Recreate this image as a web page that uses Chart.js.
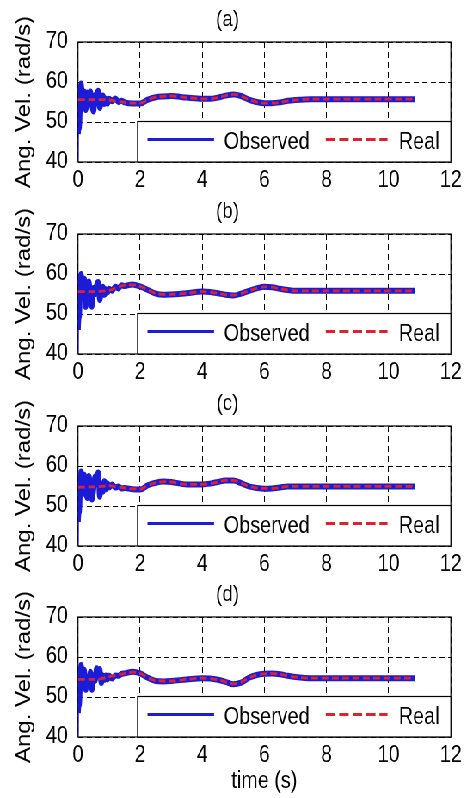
<!DOCTYPE html>
<html>
<head>
<meta charset="utf-8">
<script src="https://cdn.jsdelivr.net/npm/chart.js@4.4.1/dist/chart.umd.min.js"></script>
<style>
  html, body { margin: 0; padding: 0; background: #fff; overflow: hidden; }
  #wrap { width: 542px; transform: scaleX(0.86); transform-origin: 0 0; }
  canvas { display: block; }
</style>
</head>
<body>
<div id="wrap">
  <canvas id="pa" width="542" height="192"></canvas>
  <canvas id="pb" width="542" height="192"></canvas>
  <canvas id="pc" width="542" height="191"></canvas>
  <canvas id="pd" width="542" height="223"></canvas>
</div>
<script>
// Time bases (s)
const tReal = [0, 0.5, 0.75, 1, 1.25, 1.5, 1.75, 2, 2.25, 2.5, 2.75, 3, 3.5, 4, 4.25, 4.5, 4.75,
  5, 5.25, 5.5, 5.75, 6, 6.25, 6.5, 6.75, 7, 7.5, 8, 9, 10, 10.85];
const tObs = [0, 0.005, 0.04, 0.1, 0.15, 0.2, 0.25, 0.3, 0.35, 0.4, 0.45, 0.5, 0.55, 0.6, 0.65,
  0.7, 0.75, 0.8, 0.85, 0.9, 0.95, 1.0, 1.1, 1.2, 1.3, 1.4, 1.5, 1.75, 2, 2.25, 2.5, 2.75, 3,
  3.5, 4, 4.25, 4.5, 4.75, 5, 5.25, 5.5, 5.75, 6, 6.25, 6.5, 6.75, 7, 7.5, 8, 9, 10, 10.85];

// Real angular velocity (rad/s) per case
const realA = [55.6, 55.6, 55.6, 55.5, 55.2, 54.9, 54.7, 54.7, 55.6, 56.2, 56.4, 56.5, 56.1, 55.8,
  55.8, 56.1, 56.6, 56.9, 56.5, 55.6, 55.0, 54.7, 54.7, 54.9, 55.3, 55.5, 55.7, 55.7, 55.7, 55.7, 55.7];
const realB = [55.6, 55.6, 55.7, 55.9, 56.6, 57.2, 57.3, 56.9, 56.0, 55.2, 54.9, 54.9, 55.2, 55.6,
  55.5, 55.2, 54.8, 54.7, 55.1, 55.8, 56.4, 56.8, 56.7, 56.3, 56.0, 55.8, 55.8, 55.8, 55.8, 55.8, 55.8];
const realC = [54.7, 54.8, 54.9, 55.1, 54.8, 54.5, 54.3, 54.25, 55.2, 55.8, 56.1, 56.0, 55.4, 55.4,
  55.6, 56.0, 56.4, 56.4, 55.7, 54.9, 54.5, 54.4, 54.4, 54.6, 54.9, 54.9, 54.9, 54.9, 54.9, 54.9, 54.9];
const realD = [54.4, 54.4, 54.6, 55.1, 55.5, 55.9, 56.2, 55.9, 54.8, 54.1, 54.0, 54.0, 54.4, 54.7,
  54.6, 54.3, 53.8, 53.3, 53.7, 54.8, 55.5, 55.8, 55.9, 55.7, 55.3, 55.0, 54.7, 54.7, 54.7, 54.7, 54.7];

// Observed angular velocity (rad/s) per case
const obsA = [40, 47, 48.5, 59.6, 54.5, 57.6, 53, 57.4, 55, 57.6, 54, 52.6, 56.5, 57, 57.8, 53.5,
  55.5, 56.6, 54.5, 55.8, 54.6, 55.8, 55.2, 55.9, 55.0, 55.3, 54.9, 54.6, 54.6, 55.6, 56.2, 56.4,
  56.5, 56.1, 55.8, 55.8, 56.1, 56.6, 56.9, 56.5, 55.6, 55.0, 54.7, 54.7, 54.9, 55.3, 55.5, 55.7,
  55.7, 55.7, 55.7, 55.7];
const obsB = [40, 46, 49.5, 60, 55, 58.8, 51.8, 56, 58.1, 54, 51.8, 56.5, 55, 57.2, 58, 53.5,
  55.8, 56.8, 54.8, 56.2, 55.4, 56.3, 55.8, 56.8, 56.4, 57.2, 57.0, 57.4, 56.9, 56.0, 55.1, 54.8,
  54.9, 55.2, 55.6, 55.5, 55.2, 54.8, 54.6, 55.1, 55.8, 56.4, 56.8, 56.7, 56.3, 56.0, 55.8, 55.8,
  55.8, 55.8, 55.8, 55.8];
const obsC = [40, 46, 48.6, 58.6, 53, 57.8, 54, 52, 57.5, 55, 51.6, 54, 57.4, 55.5, 58.4, 52.3,
  55.6, 53.6, 56.2, 54.2, 55.6, 54.6, 55.4, 54.6, 54.9, 54.4, 54.5, 54.2, 54.1, 55.2, 55.8, 56.1,
  56.0, 55.4, 55.4, 55.6, 56.0, 56.4, 56.4, 55.7, 54.9, 54.5, 54.3, 54.4, 54.6, 54.9, 54.9, 54.9,
  54.9, 54.9, 54.9, 54.9];
const obsD = [40, 46, 48, 58, 54, 56.8, 51.8, 55, 53, 56.3, 51.8, 55.5, 54, 57.2, 55.5, 57,
  53.5, 55.4, 54.3, 55.4, 54.4, 55.3, 54.6, 55.4, 55.3, 55.8, 55.9, 56.3, 55.9, 54.8, 54.0, 53.9,
  54.0, 54.4, 54.7, 54.6, 54.3, 53.8, 53.2, 53.6, 54.8, 55.5, 55.8, 55.9, 55.7, 55.3, 55.0, 54.7,
  54.7, 54.7, 54.7, 54.7];

const xTicks = [0, 2, 4, 6, 8, 10, 12];
const yTicks = [40, 50, 60, 70];
const seriesNames = ['Observed', 'Real'];
const yTitle = 'Ang. Vel. (rad/s)';
const xTitle = 'time (s)';

const FONT = '"Liberation Sans", Arial, Helvetica, sans-serif';
const BLUE = '#1c1cd8';
const RED = '#e2202c';

const pts = (ts, vs) => ts.map((t, i) => ({ x: t, y: vs[i] }));

// White boxed legend in the lower right corner, plus solid axes box
const boxAndLegend = {
  id: 'boxAndLegend',
  beforeDatasetsDraw(chart) {
    const { ctx, chartArea: a } = chart;
    ctx.save();
    ctx.strokeStyle = '#000';
    ctx.lineWidth = 1.2;
    ctx.strokeRect(a.left, a.top, a.right - a.left, a.bottom - a.top);
    ctx.restore();
  },
  afterDatasetsDraw(chart) {
    const { ctx, chartArea: a } = chart;
    const w = 364.3, h = 40.5;
    const L = a.right - w, T = a.bottom - h;
    ctx.save();
    ctx.fillStyle = '#fff';
    ctx.fillRect(L, T, w, h);
    ctx.strokeStyle = '#000';
    ctx.lineWidth = 1.2;
    ctx.strokeRect(L, T, w, h);
    const ly = T + 18;
    ctx.lineWidth = 3;
    ctx.strokeStyle = BLUE;
    ctx.beginPath(); ctx.moveTo(L + 11.6, ly); ctx.lineTo(L + 89, ly); ctx.stroke();
    ctx.strokeStyle = RED;
    ctx.setLineDash([11, 4.6]);
    ctx.beginPath(); ctx.moveTo(L + 218.9, ly); ctx.lineTo(L + 290.7, ly); ctx.stroke();
    ctx.setLineDash([]);
    ctx.fillStyle = '#000';
    ctx.font = '23px ' + FONT;
    ctx.textBaseline = 'alphabetic';
    ctx.textAlign = 'left';
    ctx.fillText(seriesNames[0], L + 100.3, T + 27.5);
    ctx.fillText(seriesNames[1], L + 303.8, T + 27.5);
    ctx.restore();
  }
};

function makePanel(id, label, obs, real, withXTitle) {
  const cv = document.getElementById(id);
  const H = cv.height;
  const plotBottom = 162;
  return new Chart(cv, {
    type: 'line',
    data: {
      datasets: [
        {
          label: seriesNames[1],
          data: pts(tReal, real),
          borderColor: RED,
          borderWidth: 2.8,
          borderDash: [8, 4],
          pointRadius: 0,
          cubicInterpolationMode: 'monotone',
          order: 0
        },
        {
          label: seriesNames[0],
          data: pts(tObs, obs),
          borderColor: BLUE,
          borderWidth: 6,
          borderJoinStyle: 'round',
          pointRadius: 0,
          cubicInterpolationMode: 'monotone',
          segment: { borderWidth: c => (c.p1DataIndex <= 1 ? 1.5 : undefined) },
          order: 1
        }
      ]
    },
    options: {
      responsive: false,
      animation: false,
      events: [],
      layout: { autoPadding: false, padding: { left: 0, right: 12.9, top: 0, bottom: 0 } },
      plugins: {
        legend: { display: false },
        tooltip: { enabled: false },
        title: {
          display: true,
          text: label,
          color: '#000',
          font: { family: FONT, size: 22, weight: 'normal', lineHeight: 1.2 },
          padding: { top: 6.8, bottom: 8.8 }
        }
      },
      scales: {
        x: {
          type: 'linear',
          min: 0, max: 12,
          afterBuildTicks: s => { s.ticks = xTicks.map(v => ({ value: v })); },
          afterFit: s => { s.height = H - plotBottom; },
          ticks: { color: '#000', font: { family: FONT, size: 23 }, padding: 5, maxRotation: 0, autoSkip: false },
          grid: { color: '#000', lineWidth: 1, drawTicks: false },
          border: { display: false, dash: [6, 4] },
          title: {
            display: withXTitle,
            text: xTitle,
            color: '#000',
            font: { family: FONT, size: 23, lineHeight: 1.2 },
            padding: { top: 0, bottom: 3 }
          }
        },
        y: {
          min: 40, max: 70,
          afterBuildTicks: s => { s.ticks = yTicks.map(v => ({ value: v })); },
          afterFit: s => { s.width = 90.7; },
          ticks: { color: '#000', font: { family: FONT, size: 23 }, padding: 11.7 },
          grid: { color: '#000', lineWidth: 1, drawTicks: false },
          border: { display: false, dash: [6, 4] },
          title: {
            display: true,
            text: yTitle,
            color: '#000',
            font: { family: FONT, size: 24, lineHeight: 1.2 },
            padding: { top: 13.5, bottom: 0 }
          }
        }
      }
    },
    plugins: [boxAndLegend]
  });
}

makePanel('pa', '(a)', obsA, realA, false);
makePanel('pb', '(b)', obsB, realB, false);
makePanel('pc', '(c)', obsC, realC, false);
makePanel('pd', '(d)', obsD, realD, true);
</script>
</body>
</html>
